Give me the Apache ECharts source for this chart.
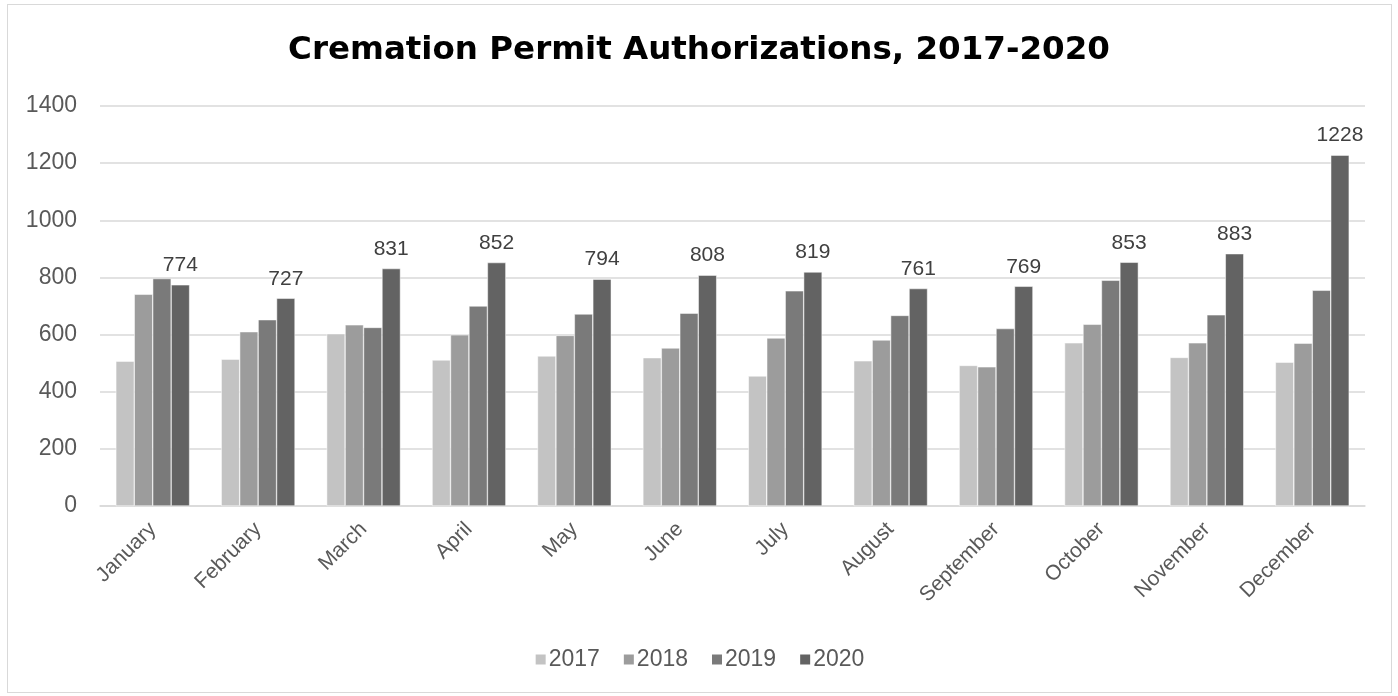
<!DOCTYPE html>
<html>
<head>
<meta charset="utf-8">
<script src="https://cdn.jsdelivr.net/npm/echarts@6/dist/echarts.min.js"></script>
<style>
  html, body { margin: 0; padding: 0; background: #fff; }
  #chart { width: 1398px; height: 696px; box-sizing: border-box; }
  .frame { position: absolute; left: 7px; top: 4px; width: 1385px; height: 689px; border: 1px solid #d9d9d9; box-sizing: border-box; pointer-events: none; }
</style>
</head>
<body>
<div class="frame"></div>
<div id="chart"></div>
<script>
// month categories
const months = ['January', 'February', 'March', 'April', 'May', 'June',
  'July', 'August', 'September', 'October', 'November', 'December'];

// values
const y2017 = [507, 514, 603, 511, 525, 519, 455, 508, 492, 571, 520, 503];
const y2018 = [741, 610, 634, 599, 597, 553, 588, 581, 487, 636, 571, 570];
const y2019 = [796, 652, 625, 700, 672, 675, 753, 667, 621, 790, 669, 755];
const y2020 = [774, 727, 831, 852, 794, 808, 819, 761, 769, 853, 883, 1228];

const yearNames = ['2017', '2018', '2019', '2020'];
const yearColors = ['#c3c3c3', '#9c9c9c', '#7a7a7a', '#636363'];

const chart = echarts.init(document.getElementById('chart'));

const makeSeries = (name, data, color, showLabel) => ({
  name: name,
  type: 'bar',
  data: data,
  barGap: '0%',
  barCategoryGap: '30%',
  itemStyle: { color: color, borderColor: '#ffffff', borderWidth: 0.5 },
  label: {
    show: showLabel,
    position: 'top',
    distance: 9,
    color: '#404040',
    fontSize: 21,
    fontFamily: 'Liberation Sans'
  }
});

const option = {
  animation: false,
  title: {
    text: 'Cremation Permit Authorizations, 2017-2020',
    left: 'center',
    top: 29,
    textStyle: {
      fontSize: 32.5,
      fontWeight: 'bold',
      color: '#000',
      fontFamily: 'DejaVu Sans'
    }
  },
  legend: {
    data: yearNames,
    bottom: 20,
    left: 'center',
    itemWidth: 12,
    itemHeight: 12,
    itemGap: 22,
    icon: 'rect',
    textStyle: { fontSize: 23, color: '#595959', fontFamily: 'Liberation Sans', padding: [0, 0, 0, -3] }
  },
  grid: {
    left: 100,
    right: 33,
    top: 106,
    bottom: 190,
    containLabel: false
  },
  xAxis: {
    type: 'category',
    data: months,
    axisLine: { lineStyle: { color: '#d9d9d9', width: 1.5 } },
    axisTick: { show: false },
    axisLabel: {
      rotate: 45,
      color: '#595959',
      fontSize: 21,
      fontFamily: 'Liberation Sans',
      margin: 20
    }
  },
  yAxis: {
    type: 'value',
    min: 0,
    max: 1400,
    interval: 200,
    axisLine: { show: false },
    axisTick: { show: false },
    splitLine: { lineStyle: { color: '#d9d9d9', width: 1.5 } },
    axisLabel: {
      color: '#595959',
      fontSize: 23,
      fontFamily: 'Liberation Sans',
      margin: 23,
      formatter: (v) => String(v)
    }
  },
  series: [
    makeSeries(yearNames[0], y2017, yearColors[0], false),
    makeSeries(yearNames[1], y2018, yearColors[1], false),
    makeSeries(yearNames[2], y2019, yearColors[2], false),
    makeSeries(yearNames[3], y2020, yearColors[3], true)
  ]
};

chart.setOption(option);
</script>
</body>
</html>
